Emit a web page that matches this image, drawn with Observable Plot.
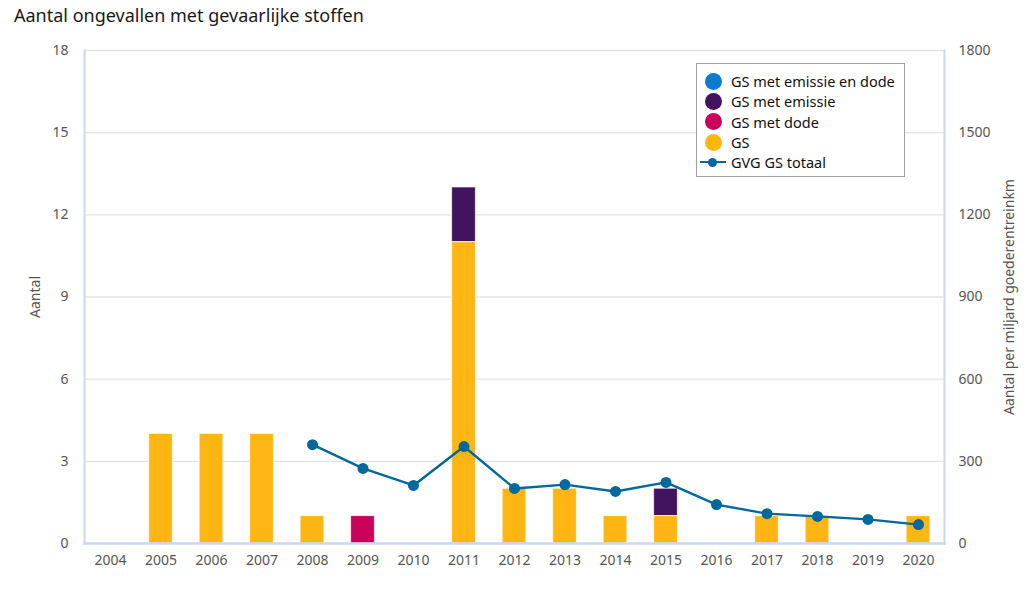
<!DOCTYPE html>
<html><head><meta charset="utf-8">
<script src="https://cdn.jsdelivr.net/npm/d3@7"></script>
<script src="https://cdn.jsdelivr.net/npm/@observablehq/plot@0.6"></script>
<style>
body{margin:0;background:#fff;font-family:"Noto Sans",sans-serif;}
#wrap{position:relative;width:1027px;height:593px;overflow:hidden;}
#title{height:30px;padding-left:14px;padding-top:3px;box-sizing:border-box;font-size:18px;color:#1a1a1a;line-height:24px;}
#legend{position:absolute;left:696px;top:63px;width:209px;height:114px;border:1px solid #a0a0a0;background:#fff;box-sizing:border-box;padding-top:7px;}
.li{height:20.3px;display:flex;align-items:center;font-size:14.5px;color:#111;}
.sw{width:17px;height:17px;border-radius:50%;margin-left:8px;margin-right:9px;}
.ln{position:relative;width:26px;margin-left:3px;margin-right:5px;height:17px;}
.ln::before{content:"";position:absolute;left:0;right:0;top:7.5px;height:2px;background:#01689b;}
.ln::after{content:"";position:absolute;left:8px;top:4px;width:9px;height:9px;border-radius:50%;background:#01689b;}
</style></head>
<body><div id="wrap">
<div id="title">Aantal ongevallen met gevaarlijke stoffen</div>
<div id="chart"></div>
<div id="legend"></div>
</div>
<script>
const years = ["2004","2005","2006","2007","2008","2009","2010","2011","2012","2013","2014","2015","2016","2017","2018","2019","2020"];
const gs = [0,4,4,4,1,0,0,11,2,2,1,1,0,1,1,0,1];
const gsDode = [0,0,0,0,0,1,0,0,0,0,0,0,0,0,0,0,0];
const gsEmissie = [0,0,0,0,0,0,0,2,0,0,0,1,0,0,0,0,0];
const gsEmissieDode = [0,0,0,0,0,0,0,0,0,0,0,0,0,0,0,0,0];
const lineYears = ["2008","2009","2010","2011","2012","2013","2014","2015","2016","2017","2018","2019","2020"];
const gvgTotaal = [361,274,212,354,201,215,190,223,142,109,99,88,69];
const leftTicks = [0,3,6,9,12,15,18];
const rightTicks = [0,300,600,900,1200,1500,1800];

const seriesNames = ["GS met emissie en dode","GS met emissie","GS met dode","GS"];
const seriesColors = ["#0a7bd1","#42145f","#ca005d","#ffb612"];
const seriesVals = [gsEmissieDode, gsEmissie, gsDode, gs];

const bars = [];
seriesNames.forEach((name, si) => {
  years.forEach((y, i) => { if (seriesVals[si][i] > 0) bars.push({year: y, type: name, value: seriesVals[si][i]}); });
});
const line = lineYears.map((y, i) => ({year: y, value: gvgTotaal[i] / 100}));

const frameColor = "#cdd6ea";
const chart = Plot.plot({
  width: 1027,
  height: 563,
  marginTop: 20,
  marginBottom: 50,
  marginLeft: 84,
  marginRight: 83,
  style: {fontFamily: "Noto Sans, sans-serif", fontSize: "14px", color: "#555", background: "#fff"},
  x: {type: "band", domain: years, paddingInner: 0.53, paddingOuter: 0.28, round: false, label: null},
  y: {domain: [0, 18], label: null},
  color: {domain: seriesNames, range: seriesColors},
  marks: [
    Plot.ruleY(leftTicks.filter(d => d > 0), {stroke: "#e3e3e3", strokeWidth: 1.3}),
    Plot.barY(bars, Plot.stackY({x: "year", y: "value", fill: "type", order: ["GS","GS met dode","GS met emissie","GS met emissie en dode"], stroke: "#fff", strokeWidth: 1, strokeOpacity: 0.7})),
    Plot.frame({anchor: "left", stroke: frameColor, strokeWidth: 2}),
    Plot.frame({anchor: "right", stroke: frameColor, strokeWidth: 2}),
    Plot.frame({anchor: "bottom", stroke: frameColor, strokeWidth: 2.5}),
    Plot.line(line, {x: "year", y: "value", stroke: "#01689b", strokeWidth: 2.4}),
    Plot.dot(line, {x: "year", y: "value", fill: "#01689b", r: 5.5}),
    Plot.axisX({tickSize: 0, tickPadding: 12, fontSize: 14, color: "#555", label: null}),
    Plot.axisY({anchor: "left", ticks: leftTicks, tickSize: 0, tickPadding: 16, label: "Aantal", labelArrow: "none", labelAnchor: "center", labelOffset: 54, fontSize: 14, color: "#555"}),
    Plot.axisY({anchor: "right", ticks: leftTicks, tickFormat: d => String(d * 100), tickSize: 0, tickPadding: 14, label: "Aantal per miljard goederentreinkm", labelArrow: "none", labelAnchor: "center", labelOffset: 69, fontSize: 14, color: "#555"})
  ]
});
document.getElementById("chart").appendChild(chart);

const legendItems = [...seriesNames.map((n, i) => ({name: n, color: seriesColors[i], kind: "dot"})), {name: "GVG GS totaal", kind: "line"}];
const lg = document.getElementById("legend");
legendItems.forEach(it => {
  const row = document.createElement("div");
  row.className = "li";
  const sw = document.createElement("span");
  if (it.kind === "dot") { sw.className = "sw"; sw.style.background = it.color; }
  else { sw.className = "ln"; }
  row.appendChild(sw);
  const t = document.createElement("span");
  t.textContent = it.name;
  row.appendChild(t);
  lg.appendChild(row);
});
</script>
</body></html>
